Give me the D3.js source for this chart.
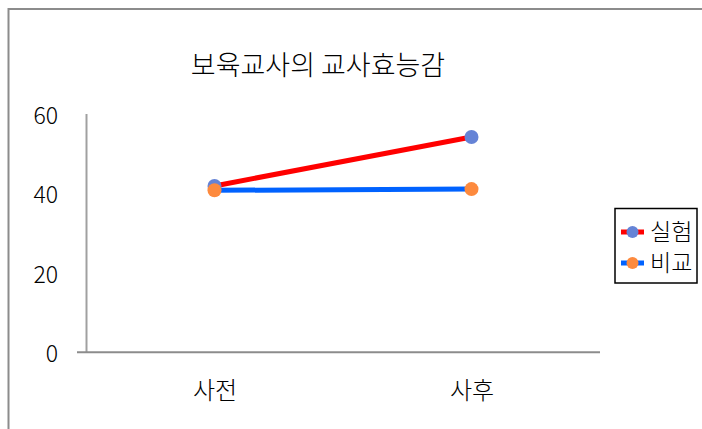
<!DOCTYPE html>
<html>
<head>
<meta charset="utf-8">
<script src="https://cdn.jsdelivr.net/npm/d3@7"></script>
<style>
  body { margin: 0; background: #fff; }
  svg { display: block; }
  text { font-family: "Noto Sans CJK KR", sans-serif; font-weight: 300; fill: #000; }
</style>
</head>
<body>
<div id="chart"></div>
<script>
// 보육교사의 교사효능감 - line chart
const categories = ['사전', '사후'];
const seriesNames = ['실험', '비교'];
const experimentValues = [41.8, 54.1];
const controlValues = [40.7, 41.0];
const yTicks = [0, 20, 40, 60];

const width = 702;
const height = 429;
const plotLeft = 86, plotRight = 600, plotTop = 113.5, plotBottom = 352.3;

const seriesStyle = [
    { name: seriesNames[0], values: experimentValues, line: '#ff0000', marker: '#6583d6' },
    { name: seriesNames[1], values: controlValues, line: '#0062ff', marker: '#fd8a3e' }
];

const svg = d3.select('#chart')
    .append('svg')
    .attr('width', width)
    .attr('height', height);

// outer frame (runs off the right and bottom edges)
svg.append('rect')
    .attr('x', 8.5)
    .attr('y', 9)
    .attr('width', width + 20)
    .attr('height', height + 20)
    .attr('fill', 'none')
    .attr('stroke', '#8c8c8c')
    .attr('stroke-width', 2);

// title
svg.append('text')
    .attr('x', 318)
    .attr('y', 75)
    .attr('text-anchor', 'middle')
    .style('font-size', '27px')
    .text('보육교사의 교사효능감');

// scales
const x = d3.scalePoint()
    .domain(categories)
    .range([plotLeft, plotRight])
    .padding(0.5);

const y = d3.scaleLinear()
    .domain([0, 60])
    .range([plotBottom, plotTop]);

// y axis
const yAxis = svg.append('g')
    .attr('transform', `translate(${plotLeft},0)`)
    .call(d3.axisLeft(y).tickValues(yTicks).tickSize(0).tickPadding(28));
yAxis.select('.domain').attr('stroke', '#a0a0a0').attr('stroke-width', 2);
yAxis.selectAll('text')
    .attr('dy', '0.42em')
    .style('font-size', '23px');

// x axis
const xAxis = svg.append('g')
    .attr('transform', `translate(0,${plotBottom})`)
    .call(d3.axisBottom(x).tickSize(0).tickPadding(30));
xAxis.select('.domain')
    .attr('d', `M${plotLeft - 9},0H${plotRight}`)
    .attr('stroke', '#8c8c8c')
    .attr('stroke-width', 2);
xAxis.selectAll('text')
    .style('font-size', '24px');

// lines and markers
const line = d3.line()
    .x((d, i) => x(categories[i]))
    .y(d => y(d));

seriesStyle.forEach(s => {
    const g = svg.append('g');
    g.append('path')
        .datum(s.values)
        .attr('d', line)
        .attr('fill', 'none')
        .attr('stroke', s.line)
        .attr('stroke-width', 5);
    g.selectAll('circle')
        .data(s.values)
        .enter()
        .append('circle')
        .attr('cx', (d, i) => x(categories[i]))
        .attr('cy', d => y(d))
        .attr('r', 7)
        .attr('fill', s.marker);
});

// legend
const legend = svg.append('g');
legend.append('rect')
    .attr('x', 615)
    .attr('y', 208.5)
    .attr('width', 82)
    .attr('height', 74.5)
    .attr('fill', '#fff')
    .attr('stroke', '#000')
    .attr('stroke-width', 1.5);

seriesStyle.forEach((s, i) => {
    const ly = 232 + i * 31;
    legend.append('line')
        .attr('x1', 621).attr('x2', 644)
        .attr('y1', ly).attr('y2', ly)
        .attr('stroke', s.line)
        .attr('stroke-width', 5);
    legend.append('circle')
        .attr('cx', 632.5)
        .attr('cy', ly)
        .attr('r', 6)
        .attr('fill', s.marker);
    legend.append('text')
        .attr('x', 650)
        .attr('y', ly)
        .attr('dy', '0.36em')
        .style('font-size', '23px')
        .text(s.name);
});
</script>
</body>
</html>
